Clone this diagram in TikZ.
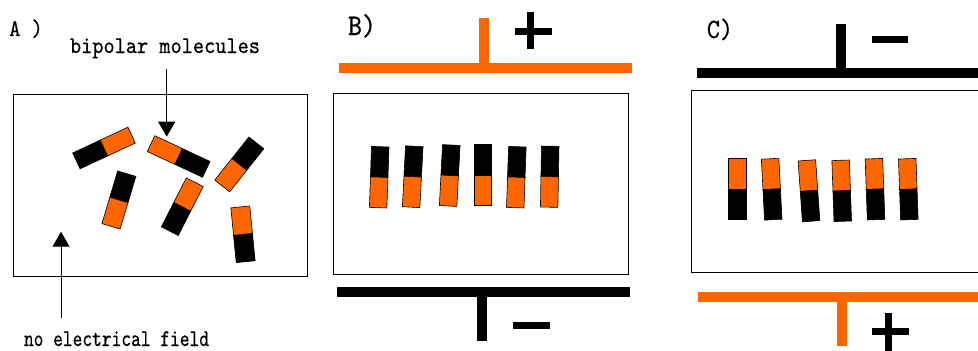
\documentclass[tikz,border=0pt]{standalone}
\usepackage{fontspec}
\usepackage{graphicx}
\newfontfamily\ttb[FakeBold=0.6]{lmmono10-regular.otf}
\usetikzlibrary{arrows.meta}
\definecolor{molorange}{RGB}{255,102,0}
\newcommand\molL{30}
\newcommand\molW{9}
\newcommand\mol[5]{%
  \begin{scope}[shift={(#1,#2)}, rotate=#3]
    \filldraw[fill=#4, draw=black, line width=0.6pt] (-\molL,-\molW) rectangle (0,\molW);
    \filldraw[fill=#5, draw=black, line width=0.6pt] (0,-\molW) rectangle (\molL,\molW);
  \end{scope}}
\newcommand\txs[2][0.887]{\scalebox{#1}[1]{#2}}
\begin{document}
\begin{tikzpicture}[x=1pt, y=1pt, yscale=-1,
  box/.style={draw=black, line width=1pt},
  bar/.style={line width=10pt},
  sign/.style={line width=7pt, black},
  arr/.style={line width=1pt, -{Triangle[width=17pt,length=15pt]}},
  lbl/.style={inner sep=0pt, anchor=base}]
\useasboundingbox (0,0) rectangle (978,351);
\clip (0,0) rectangle (978,351);
\fill[white] (0,0) rectangle (978,351);

% ---------- Panel A ----------
\node[lbl, font=\ttb\fontsize{24}{24}\selectfont] (lblA) at (26,36) {\txs{A )}};
\node[lbl, font=\ttb\fontsize{24}{24}\selectfont] (bip) at (165,53) {\txs{bipolar molecules}};
\node[lbl, font=\ttb\fontsize{24}{24}\selectfont] (nofield) at (116.5,346) {\txs[0.773]{no electrical field}};
\draw[box] (13,94) rectangle (307,276);
\renewcommand\molL{30.5}\renewcommand\molW{8.75}
\mol{104}{148}{-25}{black}{molorange}
\mol{178.7}{156.5}{25}{molorange}{black}
\renewcommand\molL{27.5}\renewcommand\molW{9.5}
\mol{118.9}{200}{106.7}{black}{molorange}
\mol{182.3}{206.7}{-63}{black}{molorange}
\mol{239.3}{164.4}{128.4}{black}{molorange}
\mol{243}{234.3}{-95.6}{black}{molorange}
\coordinate (bipTail) at (166.7,69);
\coordinate (bipTip) at (166.7,136.7);
\coordinate (nfTail) at (61,318);
\coordinate (nfTip) at (61,231.7);
\draw[arr] (bipTail) -- (bipTip);
\draw[arr] (nfTail) -- (nfTip);

% ---------- Panel B ----------
\node[lbl, font=\ttb\fontsize{30}{30}\selectfont] (lblB) at (362,35) {\txs{B)}};
\draw[box] (333,93) rectangle (628,274);
\draw[bar, molorange] (339,68) -- (632,68);
\draw[bar, molorange] (484,68) -- (484,18);
\draw[sign] (515,31.7) -- (551.7,31.7);
\draw[sign] (530,12) -- (530,49);
\draw[bar] (337,291.5) -- (630,291.5);
\draw[bar] (482,291.5) -- (482,341);
\draw[sign] (513,325) -- (550,325);
\renewcommand\molL{30.5}\renewcommand\molW{8.75}
\mol{379.2}{177.2}{92}{black}{molorange}
\mol{412.7}{176.7}{93}{black}{molorange}
\mol{449.7}{175.5}{93}{black}{molorange}
\mol{483}{175}{90}{black}{molorange}
\mol{516.3}{177.2}{92}{black}{molorange}
\mol{549.7}{176.7}{91}{black}{molorange}

% ---------- Panel C ----------
\node[lbl, font=\ttb\fontsize{28}{28}\selectfont] (lblC) at (720,38) {\txs{C)}};
\draw[box] (691.7,90.7) rectangle (990,272.7);
\draw[bar] (696.7,73) -- (990,73);
\draw[bar] (841.3,73) -- (841.3,24);
\draw[sign] (871.7,39.5) -- (907.7,39.5);
\draw[bar, molorange] (698,296.7) -- (990,296.7);
\draw[bar, molorange] (842.3,296.7) -- (842.3,346);
\draw[sign] (871.7,331) -- (909.3,331);
\draw[sign] (888.7,313) -- (888.7,360);
\mol{737.5}{189}{90}{molorange}{black}
\mol{771.7}{189.2}{87}{molorange}{black}
\mol{809}{190.8}{86}{molorange}{black}
\mol{841.7}{190.8}{88}{molorange}{black}
\mol{875}{189.2}{88}{molorange}{black}
\mol{908.3}{189.2}{88}{molorange}{black}
\end{tikzpicture}
\end{document}
